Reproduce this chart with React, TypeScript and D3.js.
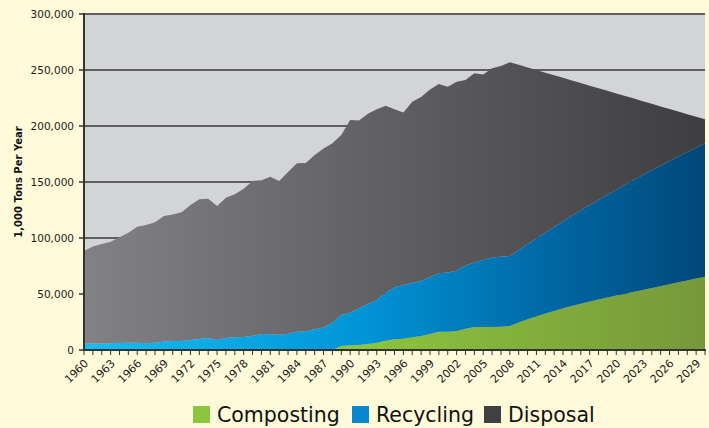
import React from "react";
import * as d3 from "d3";

const years = [
  1960, 1961, 1962, 1963, 1964, 1965, 1966, 1967, 1968, 1969,
  1970, 1971, 1972, 1973, 1974, 1975, 1976, 1977, 1978, 1979,
  1980, 1981, 1982, 1983, 1984, 1985, 1986, 1987, 1988, 1989,
  1990, 1991, 1992, 1993, 1994, 1995, 1996, 1997, 1998, 1999,
  2000, 2001, 2002, 2003, 2004, 2005, 2006, 2007, 2008, 2009,
  2010, 2011, 2012, 2013, 2014, 2015, 2016, 2017, 2018, 2019,
  2020, 2021, 2022, 2023, 2024, 2025, 2026, 2027, 2028, 2029, 2030,
];

// values in 1,000 tons per year
const composting = [
  0, 0, 0, 0, 0, 0, 0, 0, 0, 0,
  0, 0, 0, 0, 0, 0, 0, 0, 0, 0,
  0, 0, 0, 0, 0, 0, 0, 0, 0, 3600,
  4200, 4500, 5400, 6500, 8300, 9500, 10100, 11300, 12500, 14300,
  16400, 16400, 17000, 19000, 20500, 20500, 20600, 20800, 21500, 24500,
  27500, 30000, 32500, 34900, 37200, 39300, 41300, 43200, 45000, 46800,
  48600, 50300, 52000, 53600, 55300, 57000, 58700, 60400, 62100, 63800, 65500,
];

const recycling = [
  5600, 5700, 5800, 6000, 6200, 6400, 6400, 6000, 6500, 7700,
  8000, 8000, 8900, 9800, 10700, 8900, 10700, 11300, 11600, 12800,
  14300, 14000, 13700, 14600, 16400, 16700, 18500, 20200, 24400, 27600,
  29100, 32700, 35700, 38100, 42900, 46300, 47900, 48500, 49100, 50900,
  52100, 52900, 53700, 56500, 57700, 60000, 61900, 62500, 62500, 64700,
  66900, 69600, 72200, 74900, 77600, 80500, 83400, 86200, 89000, 91800,
  94500, 97200, 99900, 102600, 105100, 107600, 110000, 112300, 114600, 116800, 119000,
];

const disposal = [
  82900, 86800, 88800, 90700, 94400, 98300, 103600, 105600, 107500, 111900,
  113000, 115000, 120600, 124700, 124300, 119700, 125300, 127700, 132400, 138200,
  137200, 140700, 137300, 144400, 150300, 150300, 155500, 159800, 160100, 160800,
  172100, 167800, 169900, 170400, 166800, 159200, 154000, 161900, 164400, 167500,
  169000, 165700, 168900, 165500, 168800, 165500, 169000, 170300, 172900, 165400,
  157900, 150400, 142900, 135500, 128200, 120900, 113700, 106600, 99700, 92800,
  86000, 79300, 72600, 66000, 59500, 52900, 46500, 40200, 33900, 27700, 21500,
];

const seriesNames = ["Composting", "Recycling", "Disposal"];
const xTickLabels = [
  1960, 1963, 1966, 1969, 1972, 1975, 1978, 1981, 1984, 1987, 1990, 1993,
  1996, 1999, 2002, 2005, 2008, 2011, 2014, 2017, 2020, 2023, 2026, 2029,
];
const yTicks = [0, 50000, 100000, 150000, 200000, 250000, 300000];
const yTitle = "1,000 Tons Per Year";

const legendColors = ["#8cc63e", "#0a88cf", "#404040"];

export default function App() {
  const W = 709;
  const H = 428;
  const left = 84;
  const right = 705;
  const top = 14;
  const bottom = 350;

  const x = d3.scaleLinear().domain([years[0], years[years.length - 1]]).range([left, right]);
  const y = d3.scaleLinear().domain([0, 300000]).range([bottom, top]);

  const rows = years.map((yr, i) => ({
    year: yr,
    Composting: composting[i],
    Recycling: recycling[i],
    Disposal: disposal[i],
  }));
  const stacked = d3.stack<any>().keys(seriesNames)(rows);
  const area = d3
    .area<any>()
    .x((d) => x(d.data.year))
    .y0((d) => y(d[0]))
    .y1((d) => y(d[1]));

  const fmt = d3.format(",");
  const font = "'DejaVu Sans', Verdana, sans-serif";

  return (
    <svg
      width={W}
      height={H}
      style={{ position: "absolute", left: 0, top: 0, display: "block" }}
      fontFamily={font}
    >
      <defs>
        <linearGradient id="g-Disposal" gradientUnits="userSpaceOnUse" x1={left} x2={right} y1={0} y2={0}>
          <stop offset="0" stopColor="#828286" />
          <stop offset="0.5" stopColor="#5f5f62" />
          <stop offset="1" stopColor="#3e3e40" />
        </linearGradient>
        <linearGradient id="g-Recycling" gradientUnits="userSpaceOnUse" x1={left} x2={right} y1={0} y2={0}>
          <stop offset="0" stopColor="#16bdf2" />
          <stop offset="0.45" stopColor="#0094d7" />
          <stop offset="0.75" stopColor="#0068a4" />
          <stop offset="1" stopColor="#004878" />
        </linearGradient>
        <linearGradient id="g-Composting" gradientUnits="userSpaceOnUse" x1={left} x2={right} y1={0} y2={0}>
          <stop offset="0" stopColor="#8dc63f" />
          <stop offset="0.45" stopColor="#8cc43e" />
          <stop offset="1" stopColor="#76983a" />
        </linearGradient>
      </defs>
      <rect x={0} y={0} width={W} height={H} fill="#fffad9" />
      <rect x={left} y={top} width={right - left} height={bottom - top} fill="#d3d4d6" />
      {yTicks.map((t) => (
        <line key={"g" + t} x1={left} x2={right} y1={y(t)} y2={y(t)} stroke="#5e5e60" strokeWidth={2} />
      ))}
      {stacked.map((s: any) => (
        <path key={s.key} d={area(s) || ""} fill={`url(#g-${s.key})`} />
      ))}
      {/* y axis */}
      <line x1={left} x2={left} y1={top - 1} y2={bottom + 1} stroke="#333" strokeWidth={2} />
      {yTicks.map((t) => (
        <g key={"yt" + t}>
          <line x1={left - 5} x2={left} y1={y(t)} y2={y(t)} stroke="#333" strokeWidth={1.5} />
          <text x={left - 10} y={y(t) + 3.8} textAnchor="end" fontSize={10.5} fill="#1a1a1a">
            {fmt(t)}
          </text>
        </g>
      ))}
      {/* x axis */}
      <line x1={left} x2={right + 1} y1={bottom} y2={bottom} stroke="#333" strokeWidth={2} />
      {years.map((yr) => (
        <line key={"xt" + yr} x1={x(yr)} x2={x(yr)} y1={bottom} y2={bottom + 5} stroke="#333" strokeWidth={1} />
      ))}
      {xTickLabels.map((yr) => (
        <text
          key={"xl" + yr}
          transform={`translate(${x(yr) + 5},${bottom + 14}) rotate(-45)`}
          textAnchor="end"
          fontSize={11}
          fill="#1a1a1a"
        >
          {yr}
        </text>
      ))}
      <text
        transform={`translate(22,${(top + bottom) / 2}) rotate(-90)`}
        textAnchor="middle"
        fontSize={10}
        fontWeight="bold"
        fill="#111"
      >
        {yTitle}
      </text>
      {/* legend */}
      {seriesNames.map((name, i) => {
        const bx = [193, 352, 484][i];
        return (
          <g key={"lg" + name}>
            <rect x={bx} y={406} width={17} height={17} fill={legendColors[i]} />
            <text x={bx + 24} y={422} fontSize={20.5} fill="#111">
              {name}
            </text>
          </g>
        );
      })}
    </svg>
  );
}
